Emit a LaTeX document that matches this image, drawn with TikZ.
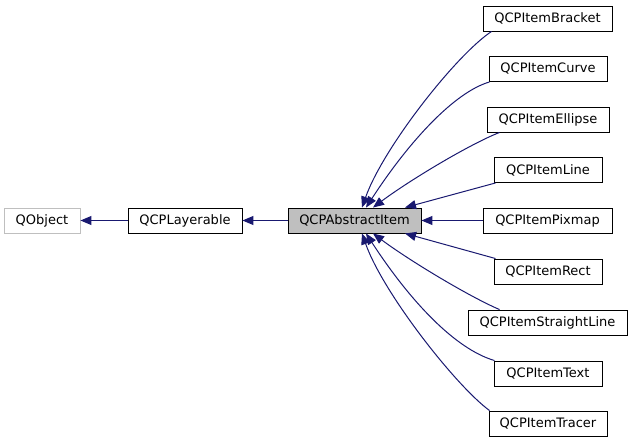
\documentclass[tikz,border=0pt]{standalone}
\usepackage{fontspec}
\setmainfont{DejaVu Sans}
\usetikzlibrary{arrows.meta}
\definecolor{edgeblue}{HTML}{191970}
\definecolor{boxgray}{HTML}{BFBFBF}
\begin{document}
\begin{tikzpicture}[x=1pt,y=-1pt,
  cls/.style={draw=black, line width=0.9pt, minimum height=25pt, inner sep=0pt,
    font=\fontsize{13}{15}\selectfont, fill=white},
  ext/.style={cls, draw=boxgray},
  cur/.style={cls, fill=boxgray},
  inh/.style={draw=edgeblue, line width=1pt, -{Triangle[length=11pt,width=9pt]}}]
\useasboundingbox (0,0) rectangle (632,443);
% nodes
\node[ext, minimum width=76pt]  (qobj) at (42,220.5)   {QObject};
\node[cls, minimum width=114pt] (lay)  at (185,220.5)  {QCPLayerable};
\node[cur, minimum width=133pt] (abs)  at (354.5,220.5) {QCPAbstractItem};
\node[cls, minimum width=129pt] (brk)  at (547.5,18.5)  {QCPItemBracket};
\node[cls, minimum width=118pt] (crv)  at (548,69)      {QCPItemCurve};
\node[cls, minimum width=122pt] (ell)  at (548,119.5)   {QCPItemEllipse};
\node[cls, minimum width=108pt] (lin)  at (548,170)     {QCPItemLine};
\node[cls, minimum width=129pt] (pix)  at (547.5,220.5) {QCPItemPixmap};
\node[cls, minimum width=108pt] (rct)  at (548,271.5)   {QCPItemRect};
\node[cls, minimum width=159pt] (sln)  at (547.5,322.5) {QCPItemStraightLine};
\node[cls, minimum width=108pt] (txt)  at (548,373.5)   {QCPItemText};
\node[cls, minimum width=118pt] (trc)  at (548,423.5)   {QCPItemTracer};
% edges
\draw[inh] (lay) -- (qobj);
\draw[inh] (abs) -- (lay);
\draw[inh] (pix) -- (abs);
\draw[inh] ([xshift=2pt]lin.south west) -- ([xshift=50.5pt]abs.north);
\draw[inh] ([xshift=2pt]rct.north west) -- ([xshift=50.5pt]abs.south);
\draw[inh] ([xshift=9pt]brk.south west) .. controls (456,55) and (383,148) .. ([xshift=7.5pt]abs.north);
\draw[inh] ([xshift=1pt]crv.south west) .. controls (455,92) and (410,140) .. ([xshift=11.5pt]abs.north);
\draw[inh] ([xshift=13pt]ell.south west) .. controls (470,144) and (410,180) .. ([xshift=18.5pt]abs.north);
\draw[inh] ([xshift=32pt]sln.north west) .. controls (470,297) and (410,261) .. ([xshift=18.5pt]abs.south);
\draw[inh] ([xshift=1pt]txt.north west) .. controls (455,349) and (410,301) .. ([xshift=11.5pt]abs.south);
\draw[inh] ([xshift=1pt]trc.north west) .. controls (456,386) and (383,293) .. ([xshift=7.5pt]abs.south);
\end{tikzpicture}
\end{document}
